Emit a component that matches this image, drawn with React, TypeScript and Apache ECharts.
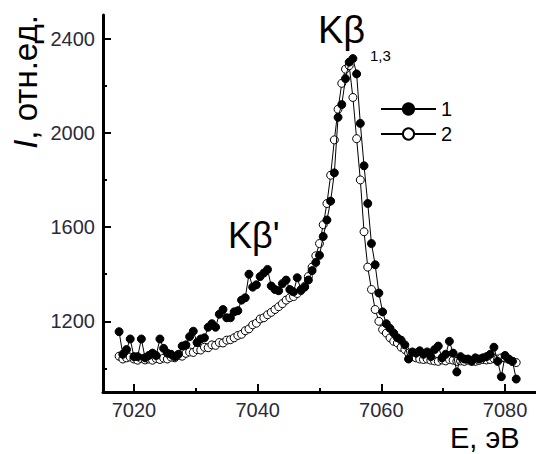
import React, { useEffect, useRef } from "react";
import * as echarts from "echarts";

// Photon energy, eV
const energy = [
  7017.6, 7018.2, 7018.8, 7019.4, 7020.0, 7020.6, 7021.2, 7021.8, 7022.4, 7023.0,
  7023.6, 7024.2, 7024.8, 7025.4, 7026.0, 7026.6, 7027.2, 7027.8, 7028.4, 7029.0,
  7029.6, 7030.2, 7030.8, 7031.4, 7032.0, 7032.6, 7033.2, 7033.8, 7034.4, 7035.0,
  7035.6, 7036.2, 7036.8, 7037.4, 7038.0, 7038.6, 7039.2, 7039.8, 7040.4, 7041.0,
  7041.6, 7042.2, 7042.8, 7043.4, 7044.0, 7044.6, 7045.2, 7045.8, 7046.4, 7047.0,
  7047.6, 7048.2, 7048.8, 7049.4, 7050.0, 7050.6, 7051.2, 7051.8, 7052.4, 7053.0,
  7053.6, 7054.2, 7054.8, 7055.4, 7056.0, 7056.6, 7057.2, 7057.8, 7058.4, 7059.0,
  7059.6, 7060.2, 7060.8, 7061.4, 7062.0, 7062.6, 7063.2, 7063.8, 7064.4, 7065.0,
  7065.6, 7066.2, 7066.8, 7067.4, 7068.0, 7068.6, 7069.2, 7069.8, 7070.4, 7071.0,
  7071.6, 7072.2, 7072.8, 7073.4, 7074.0, 7074.6, 7075.2, 7075.8, 7076.4, 7077.0,
  7077.6, 7078.2, 7078.8, 7079.4, 7080.0, 7080.6, 7081.2, 7081.8,
];

// Series 1 (filled circles)
const intensity1 = [
  1156, 1060, 1080, 1125, 1050, 1050, 1125, 1045, 1055, 1065,
  1055, 1125, 1085, 1065, 1060, 1050, 1060, 1095, 1100, 1135,
  1158, 1110, 1125, 1130, 1175, 1190, 1175, 1230, 1250, 1215,
  1215, 1240, 1245, 1290, 1300, 1400, 1345, 1355, 1390, 1405,
  1420, 1350, 1335, 1330, 1360, 1375, 1335, 1325, 1385, 1334,
  1345, 1375, 1415, 1450, 1480, 1560, 1630, 1710, 1830, 2066,
  2120, 2230, 2300, 2315, 2250, 2040, 1860, 1700, 1530, 1440,
  1320, 1240, 1190, 1170, 1150, 1130, 1120, 1100, 1040, 1070,
  1065, 1075, 1060, 1070, 1050, 1080, 1095, 1045, 1060, 1115,
  1065, 985, 1050, 1040, 1040, 1030, 1045, 1040, 1045, 1050,
  1060, 1090, 1030, 965, 1055, 1040, 1030, 955,
];

// Series 2 (open circles)
const intensity2 = [
  1052, 1040, 1045, 1048, 1040, 1035, 1042, 1036, 1040, 1035,
  1042, 1038, 1044, 1040, 1048, 1045, 1055, 1052, 1064, 1070,
  1068, 1080, 1078, 1090, 1088, 1100, 1098, 1110, 1108, 1120,
  1122, 1130, 1140, 1145, 1160, 1168, 1185, 1192, 1210, 1215,
  1228, 1238, 1250, 1262, 1275, 1290, 1300, 1305, 1318, 1330,
  1348, 1390, 1430, 1478, 1530, 1610, 1700, 1820, 1970, 2100,
  2210, 2270, 2285, 2150, 1975, 1800, 1580, 1430, 1335, 1250,
  1200, 1165, 1150, 1130, 1115, 1108, 1090, 1080, 1065, 1050,
  1045, 1040, 1038, 1040, 1035, 1032, 1030, 1036, 1032, 1038,
  1035, 1030, 1032, 1030, 1035, 1032, 1030, 1034, 1038, 1036,
  1038, 1042, 1040, 1045, 1044, 1038, 1030, 1025,
];

const seriesNames = ["1", "2"];
const xMajorTicks = [7020, 7040, 7060, 7080];
const xMinorTicks = [7030, 7050, 7070];
const yMajorTicks = [1200, 1600, 2000, 2400];
const yMinorTicks = [1000, 1400, 1800, 2200];

const FONT = "'Liberation Sans', Arial, sans-serif";

export default function App() {
  const ref = useRef<HTMLDivElement>(null);

  useEffect(() => {
    const chart = echarts.init(ref.current!, null, { renderer: "svg" });
    const xMin = 7015, xMax = 7085, yMin = 900, yMax = 2500;
    const lineBlack = { color: "#000", width: 3 };
    const plain = (v: number) => String(v);

    chart.setOption({
      animation: false,
      backgroundColor: "#ffffff",
      grid: { left: 103, right: 0, top: 15, bottom: 62, containLabel: false },
      xAxis: [
        {
          type: "value", min: xMin, max: xMax, position: "bottom",
          axisLine: { show: true, onZero: false, lineStyle: lineBlack },
          axisTick: { show: true, inside: true, length: 8, customValues: xMajorTicks, lineStyle: { color: "#000", width: 2 } },
          axisLabel: { show: true, customValues: xMajorTicks, formatter: plain, margin: 8, fontSize: 20, color: "#2a2a3a", fontFamily: FONT },
          splitLine: { show: false },
        },
        {
          type: "value", min: xMin, max: xMax, position: "bottom",
          axisLine: { show: false },
          axisTick: { show: true, inside: true, length: 4, customValues: xMinorTicks, lineStyle: { color: "#000", width: 2 } },
          axisLabel: { show: false },
          splitLine: { show: false },
        },
      ],
      yAxis: [
        {
          type: "value", min: yMin, max: yMax, position: "left",
          axisLine: { show: true, onZero: false, lineStyle: lineBlack },
          axisTick: { show: true, inside: true, length: 8, customValues: yMajorTicks, lineStyle: { color: "#000", width: 2 } },
          axisLabel: { show: true, customValues: yMajorTicks, formatter: plain, margin: 8, fontSize: 20, color: "#2a2a3a", fontFamily: FONT },
          splitLine: { show: false },
        },
        {
          type: "value", min: yMin, max: yMax, position: "left",
          axisLine: { show: false },
          axisTick: { show: true, inside: true, length: 4, customValues: yMinorTicks, lineStyle: { color: "#000", width: 2 } },
          axisLabel: { show: false },
          splitLine: { show: false },
        },
      ],
      legend: {
        data: seriesNames,
        orient: "vertical",
        left: 375,
        top: 94,
        itemWidth: 55,
        itemHeight: 14,
        itemGap: 5,
        textStyle: { fontSize: 20, color: "#000", fontFamily: FONT },
      },
      series: [
        {
          name: seriesNames[1],
          type: "line",
          data: energy.map((e, i) => [e, intensity2[i]]),
          symbol: "circle",
          symbolSize: 8,
          showSymbol: true,
          lineStyle: { color: "#000", width: 1 },
          itemStyle: { color: "#fff", borderColor: "#000", borderWidth: 1 },
          z: 2,
        },
        {
          name: seriesNames[0],
          type: "line",
          data: energy.map((e, i) => [e, intensity1[i]]),
          symbol: "circle",
          symbolSize: 8,
          showSymbol: true,
          lineStyle: { color: "#000", width: 1 },
          itemStyle: { color: "#000", borderColor: "#000", borderWidth: 1 },
          z: 3,
        },
      ],
      graphic: [
        {
          type: "text", x: 318, y: 30,
          style: { text: "Kβ", fontSize: 38, fontFamily: FONT, fill: "#000", align: "left", verticalAlign: "middle", textAlign: "left", textVerticalAlign: "middle" },
        },
        {
          type: "text", x: 370, y: 55,
          style: { text: "1,3", fontSize: 15, fontFamily: FONT, fill: "#000", align: "left", verticalAlign: "middle", textAlign: "left", textVerticalAlign: "middle" },
        },
        {
          type: "text", x: 228, y: 235,
          style: { text: "Kβ'", fontSize: 36, fontFamily: FONT, fill: "#000", align: "left", verticalAlign: "middle", textAlign: "left", textVerticalAlign: "middle" },
        },
        {
          type: "text", x: 450, y: 438,
          style: { text: "E, эВ", fontSize: 29, fontFamily: FONT, fill: "#000", align: "left", verticalAlign: "middle", textAlign: "left", textVerticalAlign: "middle" },
        },
        {
          type: "text", x: 25, y: 82, rotation: Math.PI / 2,
          style: {
            text: "{i|I}, отн.ед.",
            fontSize: 33, fontFamily: FONT, fill: "#000",
            align: "center", verticalAlign: "middle", textAlign: "center", textVerticalAlign: "middle",
            rich: { i: { fontStyle: "italic", fontSize: 33, fontFamily: FONT, fill: "#000" } },
          },
        },
      ],
    });

    return () => chart.dispose();
  }, []);

  return (
    <div
      ref={ref}
      style={{ position: "absolute", left: 0, top: 0, width: 536, height: 454, background: "#fff" }}
    />
  );
}
